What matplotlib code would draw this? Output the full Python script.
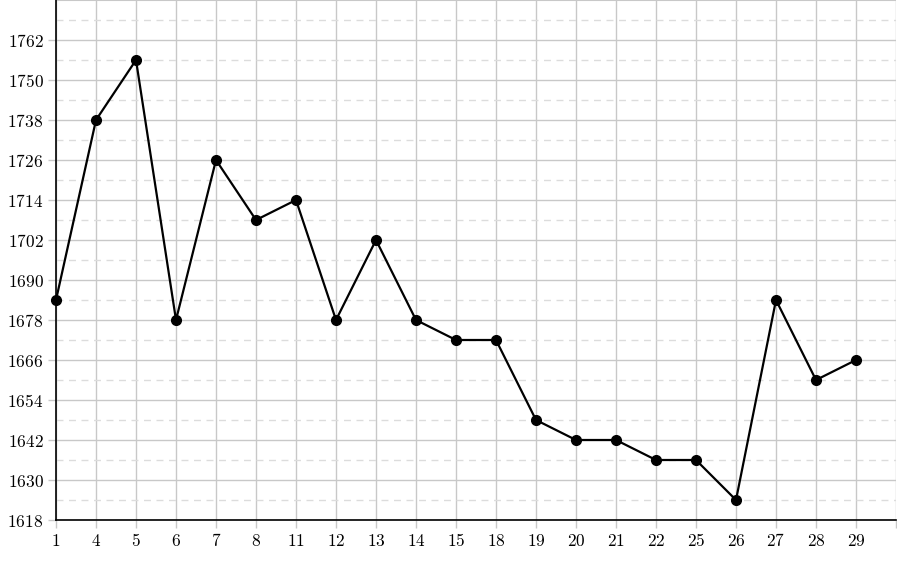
import matplotlib.pyplot as plt
import numpy as np

# Data #
days = ['1', '4', '5', '6', '7', '8', '11', '12', '13', '14', '15',
        '18', '19', '20', '21', '22', '25', '26', '27', '28', '29']
values = [1684, 1738, 1756, 1678, 1726, 1708, 1714, 1678, 1702, 1678, 1672,
          1672, 1648, 1642, 1642, 1636, 1636, 1624, 1684, 1660, 1666]
y_major = np.arange(1618, 1763, 12)
y_minor = np.arange(1624, 1775, 12)

plt.rcParams['mathtext.fontset'] = 'cm'

fig = plt.figure(figsize=(8.97, 5.61), dpi=100)
ax = fig.add_axes([56/897, 41/561, 840/897, 520/561])

x = np.arange(len(days))
ax.plot(x, values, color='black', lw=1.6, marker='o', ms=7, zorder=5, clip_on=False)

grid_col = '#c8c8c8'
ax.set_xlim(0, len(days))
ax.set_ylim(1618, 1774)
ax.set_xticks(np.arange(len(days) + 1))
ax.set_xticklabels(['$%s$' % d for d in days] + [''])
ax.set_yticks(y_major)
ax.set_yticklabels(['$%d$' % v for v in y_major])
ax.set_yticks(y_minor, minor=True)

ax.grid(True, which='major', color=grid_col, lw=1.0)
ax.grid(True, which='minor', axis='y', color='#dcdcdc', lw=1.0, ls=(0, (5, 4)))
ax.axhline(1774, color=grid_col, lw=1.5)
ax.set_axisbelow(True)

ax.tick_params(which='both', direction='out', length=6, width=1.0, color=grid_col,
               labelsize=12.5, pad=3)
ax.tick_params(which='minor', length=0)
ax.xaxis.get_major_ticks()[0].tick1line.set_color('black')
ax.yaxis.get_major_ticks()[0].tick1line.set_color('black')

for s in ['top', 'right']:
    ax.spines[s].set_visible(False)
for s in ['left', 'bottom']:
    ax.spines[s].set_color('black')
    ax.spines[s].set_linewidth(1.2)

fig.savefig('out.png', dpi=100)
